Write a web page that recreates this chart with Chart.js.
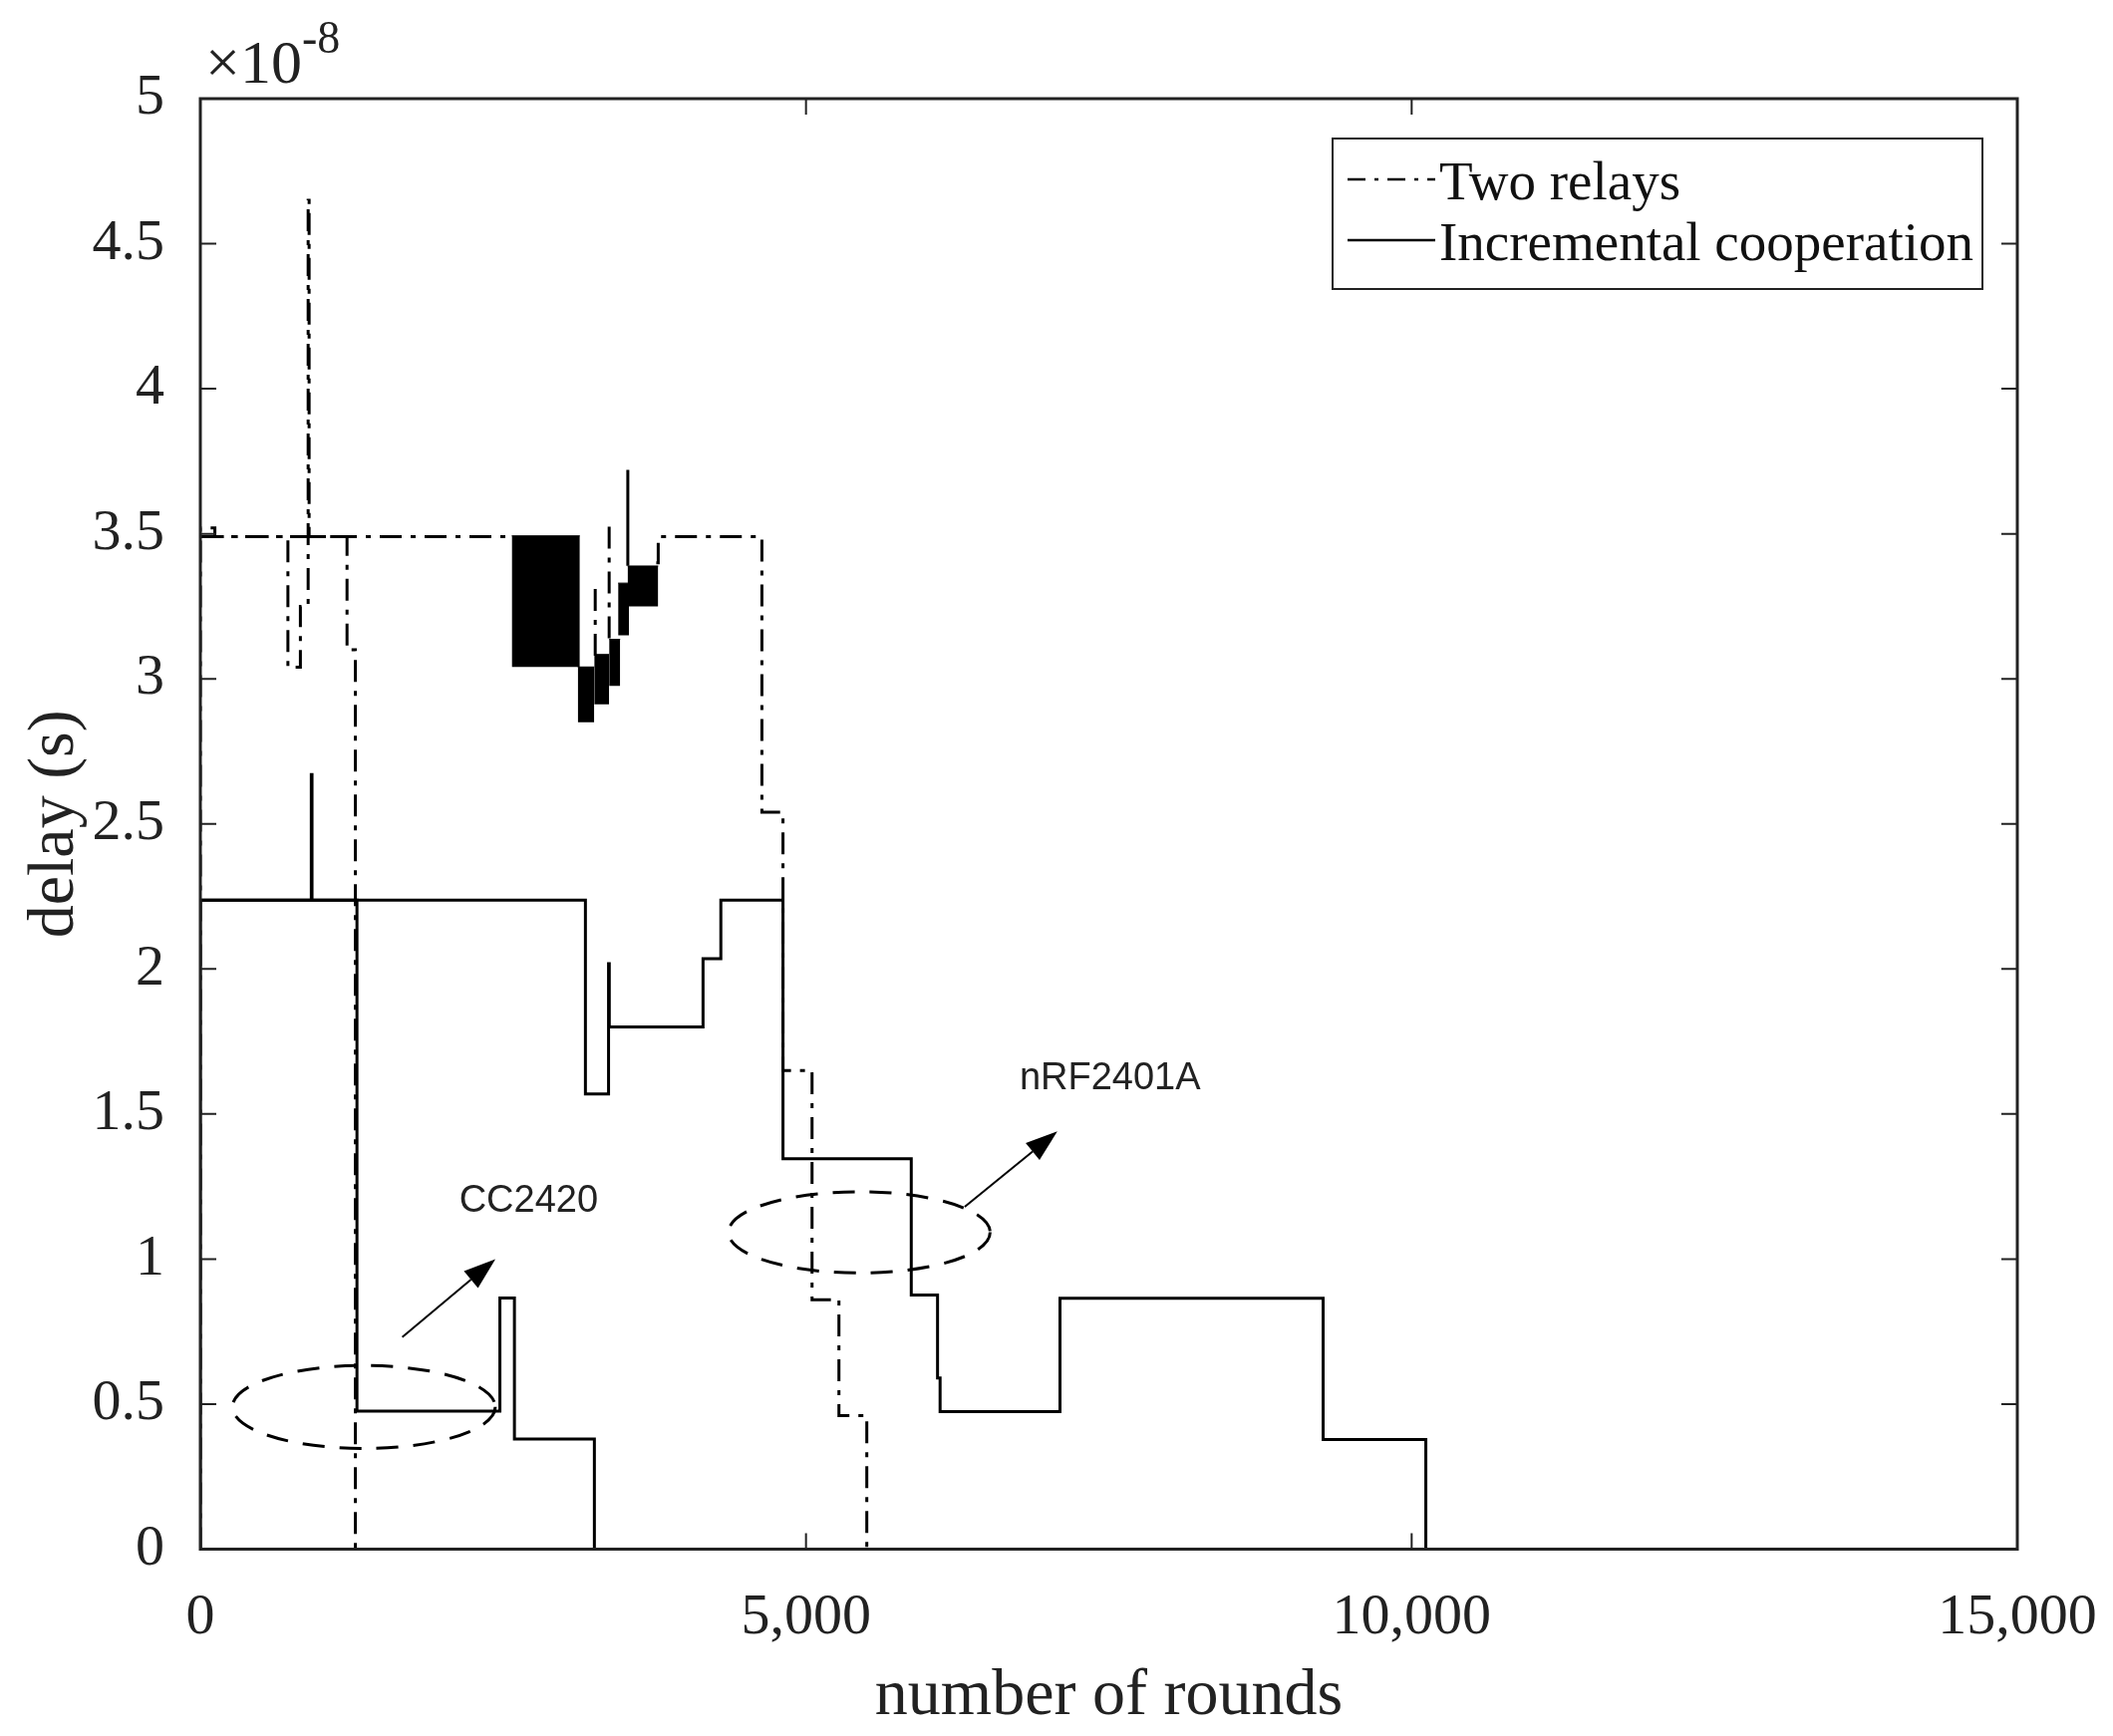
<!DOCTYPE html>
<html>
<head>
<meta charset="utf-8">
<script src="https://cdn.jsdelivr.net/npm/chart.js@4.4.1/dist/chart.umd.min.js"></script>
<style>
  html, body { margin: 0; padding: 0; background: #fff; }
  #wrap { width: 2120px; height: 1742px; }
</style>
</head>
<body>
<div id="wrap"><canvas id="delayChart" width="2120" height="1742"></canvas></div>
<script>
// delay in units of 1e-8 s, x = number of rounds
const xTickValues = [0, 5000, 10000, 15000];
const yTickValues = [0, 0.5, 1, 1.5, 2, 2.5, 3, 3.5, 4, 4.5, 5];

// two relays, CC2420 (dash-dot)
const twoRelaysCcX = [0, 0, 120, 723, 826, 890, 898, 1211, 1280, 15000];
const twoRelaysCcY = [0, 3.52, 3.49, 3.04, 3.25, 4.65, 3.49, 3.10, 0, 0];

// two relays, nRF2401A (dash-dot)
const twoRelaysNrfX = [0, 2571, 2571, 3260, 3260, 3260, 3375, 3375, 3375, 3764, 3780, 4636, 4810, 5050, 5272, 5502, 15000];
const twoRelaysNrfY = [3.49, 3.49, null, 3.08, 3.34, null, 3.14, 3.53, null, 3.40, 3.49, 2.54, 1.65, 0.86, 0.46, 0, 0];

// incremental cooperation, CC2420 (solid)
const incrCcX = [0, 0, 916, 922, 1293, 2473, 2593, 3253, 15000];
const incrCcY = [0, 2.237, 2.67, 2.237, 0.476, 0.866, 0.38, 0, 0];

// incremental cooperation, nRF2401A (solid)
const incrNrfX = [0, 3179, 3370, 3376, 4150, 4297, 4810, 5869, 6086, 6107, 7097, 9269, 10117, 15000];
const incrNrfY = [2.237, 1.569, 2.018, 1.80, 2.035, 2.237, 1.346, 0.876, 0.59, 0.474, 0.865, 0.378, 0, 0];

// lone solid spike
const spikeX = [3529, 3529];
const spikeY = [3.39, 3.72];

// densely toggling region, drawn as filled blocks
const blockStart = [2571, 3116, 3252, 3375, 3449, 3527];
const blockEnd   = [3133, 3252, 3375, 3466, 3539, 3780];
const blockLow   = [3.041, 2.850, 2.912, 2.976, 3.150, 3.250];
const blockHigh  = [3.493, 3.041, 3.084, 3.136, 3.330, 3.389];

// annotations (data units)
const markLabels = ['CC2420', 'nRF2401A'];
const markLabelX = [2710, 7510];
const markLabelY = [1.2, 1.62];
const ellipseCx = [1350, 5440];
const ellipseCy = [0.49, 1.092];
const ellipseRx = [1085, 1080];
const ellipseRy = [0.143, 0.14];
const arrowFromX = [1667, 6310];
const arrowFromY = [0.731, 1.18];
const arrowToX = [2436, 7075];
const arrowToY = [1.0, 1.44];

const DASH_DOT = [22, 9, 5, 9];
const INK = '#000';
const SERIF = '"Liberation Serif", "Times New Roman", serif';

function toPoints(xs, ys) {
  return xs.map((x, i) => ({x: x, y: ys[i]}));
}

function stepLine(label, xs, ys, dashed, inLegend) {
  return {
    label: label,
    data: toPoints(xs, ys),
    borderColor: INK,
    borderWidth: 3,
    borderDash: dashed ? DASH_DOT : [],
    stepped: true,
    pointRadius: 0,
    fill: false,
    spanGaps: false,
    inLegend: inLegend
  };
}

const datasets = [];
blockStart.forEach((x0, i) => {
  datasets.push({
    label: '',
    data: toPoints([x0, blockEnd[i]], [blockHigh[i], blockHigh[i]]),
    borderColor: INK,
    borderWidth: 1,
    backgroundColor: INK,
    pointRadius: 0,
    fill: {value: blockLow[i]},
    inLegend: false
  });
});
datasets.push(stepLine('Two relays', twoRelaysCcX, twoRelaysCcY, true, true));
datasets.push(stepLine('Two relays', twoRelaysNrfX, twoRelaysNrfY, true, false));
datasets.push(stepLine('Incremental cooperation', incrCcX, incrCcY, false, true));
datasets.push(stepLine('Incremental cooperation', incrNrfX, incrNrfY, false, false));
datasets.push(stepLine('Incremental cooperation', spikeX, spikeY, false, false));

// box, inward ticks, annotations, exponent and legend
const matlabFrame = {
  id: 'matlabFrame',
  afterDatasetsDraw(chart) {
    const {ctx, chartArea: a, scales: {x, y}} = chart;
    ctx.save();

    // dashed ellipses
    ctx.strokeStyle = INK;
    ctx.lineWidth = 3;
    ctx.setLineDash([22, 15]);
    ellipseCx.forEach((cx, i) => {
      const px = x.getPixelForValue(cx);
      const py = y.getPixelForValue(ellipseCy[i]);
      const rx = Math.abs(x.getPixelForValue(cx + ellipseRx[i]) - px);
      const ry = Math.abs(y.getPixelForValue(ellipseCy[i] + ellipseRy[i]) - py);
      ctx.beginPath();
      ctx.ellipse(px, py, rx, ry, 0, 0, Math.PI * 2);
      ctx.stroke();
    });

    // arrows
    ctx.setLineDash([]);
    ctx.lineWidth = 2;
    ctx.fillStyle = INK;
    arrowFromX.forEach((fx, i) => {
      const x1 = x.getPixelForValue(fx), y1 = y.getPixelForValue(arrowFromY[i]);
      const x2 = x.getPixelForValue(arrowToX[i]), y2 = y.getPixelForValue(arrowToY[i]);
      const ang = Math.atan2(y2 - y1, x2 - x1);
      const head = 32, half = 11;
      const bx = x2 - head * Math.cos(ang), by = y2 - head * Math.sin(ang);
      ctx.beginPath();
      ctx.moveTo(x1, y1);
      ctx.lineTo(bx, by);
      ctx.stroke();
      ctx.beginPath();
      ctx.moveTo(x2, y2);
      ctx.lineTo(bx + half * Math.sin(ang), by - half * Math.cos(ang));
      ctx.lineTo(bx - half * Math.sin(ang), by + half * Math.cos(ang));
      ctx.closePath();
      ctx.fill();
    });

    // annotation texts
    ctx.fillStyle = '#222';
    ctx.font = '38px "Liberation Sans", Arial, sans-serif';
    ctx.textAlign = 'center';
    ctx.textBaseline = 'middle';
    markLabels.forEach((t, i) => {
      ctx.fillText(t, x.getPixelForValue(markLabelX[i]), y.getPixelForValue(markLabelY[i]));
    });

    // axes box
    ctx.strokeStyle = '#222';
    ctx.lineWidth = 3;
    ctx.strokeRect(a.left, a.top, a.right - a.left, a.bottom - a.top);

    // inward tick marks on all four sides
    const tl = 16;
    ctx.lineWidth = 2;
    ctx.beginPath();
    xTickValues.forEach(v => {
      const px = x.getPixelForValue(v);
      ctx.moveTo(px, a.bottom); ctx.lineTo(px, a.bottom - tl);
      ctx.moveTo(px, a.top); ctx.lineTo(px, a.top + tl);
    });
    yTickValues.forEach(v => {
      const py = y.getPixelForValue(v);
      ctx.moveTo(a.left, py); ctx.lineTo(a.left + tl, py);
      ctx.moveTo(a.right, py); ctx.lineTo(a.right - tl, py);
    });
    ctx.stroke();

    // exponent
    ctx.fillStyle = '#222';
    ctx.textAlign = 'left';
    ctx.textBaseline = 'alphabetic';
    ctx.font = '62px ' + SERIF;
    ctx.fillText('\u00d710', a.left + 5, a.top - 16);
    const w = ctx.measureText('\u00d710').width;
    ctx.font = '46px ' + SERIF;
    ctx.fillText('-8', a.left + 5 + w, a.top - 46);

    // legend
    const items = chart.data.datasets.filter(d => d.inLegend);
    const lx = 1337, ly = 139, lw = 652, lh = 151;
    ctx.fillStyle = '#fff';
    ctx.fillRect(lx, ly, lw, lh);
    ctx.strokeStyle = '#222';
    ctx.lineWidth = 2;
    ctx.strokeRect(lx, ly, lw, lh);
    ctx.font = '55px ' + SERIF;
    items.forEach((d, i) => {
      const rowY = 180 + i * 61;
      ctx.strokeStyle = INK;
      ctx.lineWidth = 2.5;
      ctx.setLineDash(d.borderDash.length ? [18, 9, 4, 9] : []);
      ctx.beginPath();
      ctx.moveTo(1352, rowY);
      ctx.lineTo(1440, rowY);
      ctx.stroke();
      ctx.setLineDash([]);
      ctx.fillStyle = '#111';
      ctx.fillText(d.label, 1444, rowY + 20);
    });

    ctx.restore();
  }
};

new Chart(document.getElementById('delayChart'), {
  type: 'line',
  data: {datasets: datasets},
  plugins: [matlabFrame],
  options: {
    responsive: false,
    animation: false,
    devicePixelRatio: 1,
    layout: {padding: {left: 16, top: 99, right: 96, bottom: 0}},
    plugins: {legend: {display: false}, tooltip: {enabled: false}},
    scales: {
      x: {
        type: 'linear',
        min: 0,
        max: 15000,
        afterBuildTicks: s => { s.ticks = xTickValues.map(v => ({value: v})); },
        afterFit: s => { s.height = 187.5; s.paddingLeft = 0; s.paddingRight = 0; },
        grid: {display: false},
        border: {display: false},
        ticks: {
          color: '#222',
          padding: 26,
          maxRotation: 0,
          font: {family: SERIF, size: 58},
          callback: v => v.toLocaleString('en-US')
        },
        title: {
          display: true,
          text: 'number of rounds',
          color: '#222',
          padding: 0,
          font: {family: SERIF, size: 66}
        }
      },
      y: {
        type: 'linear',
        min: 0,
        max: 5,
        afterBuildTicks: s => { s.ticks = yTickValues.map(v => ({value: v})); },
        afterFit: s => { s.width = 185; s.paddingTop = 0; s.paddingBottom = 0; },
        grid: {display: false},
        border: {display: false},
        ticks: {
          color: '#222',
          padding: 28,
          font: {family: SERIF, size: 58},
          callback: v => String(v)
        },
        title: {
          display: true,
          text: 'delay (s)',
          color: '#222',
          padding: 0,
          font: {family: SERIF, size: 66}
        }
      }
    }
  }
});
</script>
</body>
</html>
